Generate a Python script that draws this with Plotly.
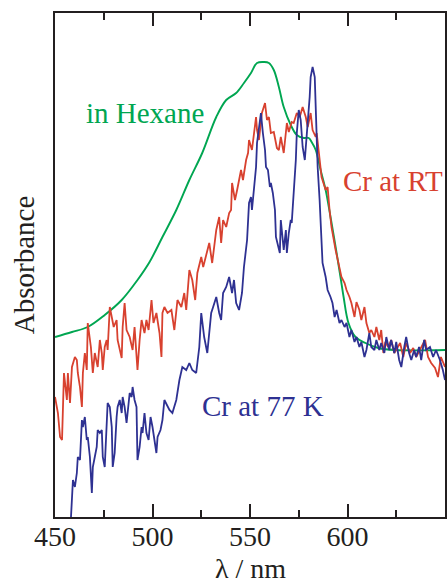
import plotly.graph_objects as go

# Cr at RT (red)
rt_nm = [450.0, 451.5, 452.6, 453.6, 454.6, 456.1, 456.6, 457.7, 458.7, 460.2, 461.2, 461.7, 462.8, 463.8, 464.3,
         465.3, 466.3, 466.8, 468.4, 469.4, 470.4, 471.9, 473.0, 474.0, 474.5, 475.5, 476.5, 477.0, 478.1, 479.1,
         480.1, 481.6, 482.1, 484.2, 484.7, 485.7, 486.7, 488.3, 489.8, 490.8, 492.3, 493.4, 494.4, 495.9, 496.9,
         498.0, 499.5, 500.5, 502.0, 503.6, 504.6, 505.1, 506.1, 507.7, 509.7, 511.2, 512.8, 514.8, 516.3, 517.3,
         518.9, 520.4, 521.9, 523.0, 525.0, 526.0, 527.6, 529.1, 530.6, 532.7, 534.2, 535.2, 536.2, 537.8, 539.3,
         540.3, 540.8, 542.3, 543.4, 544.4, 545.4, 546.4, 548.0, 549.0, 549.5, 551.0, 552.0, 553.1, 553.6, 554.6,
         556.1, 557.7, 558.7, 559.7, 560.7, 562.2, 563.8, 564.8, 565.8, 567.3, 568.9, 569.9, 571.4, 572.4, 574.0,
         575.5, 577.0, 578.6, 579.6, 581.1, 582.1, 583.7, 584.2, 585.7, 586.7, 588.8, 589.8, 590.8, 591.8, 593.9,
         595.4, 596.9, 598.5, 599.5, 601.0, 602.0, 603.6, 604.6, 606.1, 607.1, 608.7, 609.7, 611.2, 612.2, 613.8,
         614.8, 616.3, 617.3, 618.4, 619.4, 620.9, 622.4, 624.0, 625.0, 627.0, 628.6, 630.1, 632.1, 633.7, 635.2,
         637.8, 639.8, 641.3, 642.9, 644.9, 646.4, 647.9, 650.0]
rt_abs = [1.20, 1.04, 0.80, 0.77, 1.44, 1.17, 1.44, 1.14, 1.50, 1.60, 1.57, 1.44, 1.30, 1.10, 1.44,
          1.64, 1.47, 1.94, 1.70, 1.44, 1.64, 1.50, 1.77, 1.64, 1.47, 1.70, 1.77, 1.67, 2.10, 2.00,
          1.90, 1.97, 1.77, 1.59, 1.90, 2.14, 1.87, 1.80, 1.67, 1.90, 1.47, 1.77, 1.97, 1.84, 1.97,
          1.87, 2.17, 1.94, 2.04, 1.84, 1.60, 2.04, 2.10, 2.04, 2.07, 1.87, 2.17, 2.10, 2.24, 2.07,
          2.47, 2.37, 2.17, 2.44, 2.60, 2.50, 2.64, 2.74, 2.54, 2.87, 3.00, 2.74, 2.97, 2.90, 3.04,
          3.07, 3.34, 3.17, 3.27, 3.37, 3.47, 3.37, 3.57, 3.64, 3.77, 3.67, 3.84, 4.00, 3.87, 3.77,
          4.04, 4.14, 3.97, 4.00, 3.84, 3.85, 3.69, 3.67, 3.80, 3.64, 3.94, 3.85, 3.95, 3.94, 4.04,
          4.00, 4.10, 4.00, 3.90, 4.04, 3.87, 3.80, 3.84, 3.57, 3.40, 3.27, 3.30, 3.07, 2.90, 2.67,
          2.54, 2.40, 2.34, 2.27, 2.20, 2.14, 2.00, 2.15, 2.07, 1.97, 2.10, 1.94, 1.84, 1.87, 1.80,
          1.90, 1.77, 1.87, 1.64, 1.75, 1.70, 1.77, 1.64, 1.67, 1.74, 1.60, 1.74, 1.64, 1.69, 1.60,
          1.70, 1.77, 1.60, 1.54, 1.49, 1.40, 1.60, 1.50]

# Cr at 77 K (blue)
k77_nm = [458.2, 458.7, 459.2, 460.2, 461.2, 461.7, 462.8, 463.8, 464.3, 465.3, 466.3, 466.8, 467.9, 468.9, 469.4,
          470.4, 471.4, 471.9, 473.0, 474.0, 474.5, 475.5, 476.5, 477.0, 478.1, 479.1, 479.6, 480.6, 481.6, 482.1,
          483.2, 484.2, 484.7, 485.7, 486.7, 487.2, 488.3, 489.3, 489.8, 490.8, 491.8, 492.3, 493.4, 494.4, 494.9,
          495.9, 496.9, 498.0, 499.0, 500.0, 501.0, 502.0, 502.6, 504.1, 505.1, 506.1, 508.7, 510.2, 512.2, 513.8,
          515.3, 517.3, 518.9, 520.4, 522.4, 524.0, 525.0, 526.5, 528.1, 530.1, 531.1, 532.7, 534.2, 535.2, 536.2,
          537.8, 539.3, 540.8, 541.8, 542.9, 544.4, 545.9, 546.9, 548.5, 549.5, 550.5, 551.0, 552.0, 553.1, 553.6,
          554.6, 555.6, 556.6, 557.7, 558.2, 559.2, 560.2, 560.7, 561.7, 562.8, 563.3, 564.3, 565.3, 565.8, 566.8,
          567.3, 568.4, 568.9, 569.9, 570.9, 571.4, 572.4, 573.5, 574.0, 575.0, 576.0, 577.0, 578.1, 578.6, 579.6,
          580.6, 581.1, 582.1, 583.2, 583.7, 584.7, 585.7, 586.7, 587.2, 588.8, 589.8, 591.3, 592.3, 593.4, 594.4,
          595.9, 596.9, 598.5, 599.5, 601.0, 602.0, 603.6, 604.6, 606.1, 607.1, 608.7, 609.7, 611.2, 612.2, 613.8,
          614.8, 616.3, 617.3, 618.9, 619.9, 621.4, 622.4, 624.0, 625.0, 626.5, 627.6, 629.1, 630.1, 631.6, 632.7,
          634.2, 635.2, 636.7, 637.8, 639.3, 640.3, 642.3, 643.9, 645.4, 647.4, 648.9, 650.0]
k77_abs = [0.00, 0.14, 0.37, 0.30, 0.44, 0.60, 0.57, 0.97, 0.90, 1.00, 0.77, 0.80, 0.60, 0.24, 0.50,
           0.60, 0.70, 0.87, 0.84, 0.87, 0.60, 0.50, 0.90, 1.14, 1.10, 0.90, 0.50, 0.64, 1.00, 1.10,
           1.17, 1.04, 1.20, 1.10, 0.94, 1.04, 1.24, 1.20, 1.30, 1.17, 1.10, 0.57, 0.70, 0.90, 0.84,
           1.04, 0.84, 0.77, 1.00, 0.90, 0.77, 0.64, 0.80, 0.87, 0.97, 1.17, 1.07, 1.04, 1.17, 1.37,
           1.50, 1.47, 1.54, 1.47, 1.44, 1.70, 2.04, 1.80, 1.64, 2.04, 2.10, 2.20, 2.04, 1.97, 2.24,
           2.30, 2.40, 2.24, 2.37, 2.14, 2.07, 2.24, 2.50, 2.77, 3.14, 3.20, 3.07, 3.27, 3.50, 3.74,
           3.90, 4.04, 3.84, 3.67, 3.50, 3.47, 3.30, 3.34, 3.24, 3.07, 2.80, 2.70, 2.64, 2.97, 2.80,
           2.67, 2.87, 2.64, 2.84, 2.97, 2.94, 3.24, 3.57, 3.84, 4.07, 3.97, 3.70, 3.57, 3.70, 3.87,
           4.20, 4.40, 4.50, 4.40, 4.00, 3.50, 3.17, 2.80, 2.54, 2.40, 2.27, 2.20, 2.14, 2.00, 2.07,
           1.94, 1.97, 1.90, 1.94, 1.80, 1.87, 1.75, 1.80, 1.70, 1.75, 1.60, 1.67, 1.84, 1.70, 1.67,
           1.77, 1.67, 1.74, 1.64, 1.80, 1.67, 1.77, 1.64, 1.75, 1.57, 1.50, 1.70, 1.80, 1.64, 1.57,
           1.67, 1.60, 1.70, 1.57, 1.77, 1.67, 1.70, 1.60, 1.67, 1.57, 1.47, 1.37]

# in Hexane (green)
hex_nm = [450.0, 458.7, 466.8, 475.5, 484.2, 492.3, 498.5, 505.1, 512.2, 518.9, 525.5, 532.7, 537.8, 542.9,
          546.9, 550.5, 553.6, 557.1, 559.7, 562.2, 564.8, 567.3, 570.9, 574.0, 577.6, 580.1, 581.6, 583.7,
          586.2, 588.8, 591.3, 593.9, 596.4, 598.0, 600.5, 604.1, 609.2, 615.8, 624.5, 650.0]
hex_abs = [1.80, 1.85, 1.90, 2.02, 2.17, 2.37, 2.55, 2.80, 3.07, 3.37, 3.64, 4.00, 4.17, 4.24,
           4.34, 4.44, 4.54, 4.55, 4.54, 4.47, 4.30, 4.10, 3.92, 3.82, 3.79, 3.79, 3.75, 3.67,
           3.47, 3.27, 3.00, 2.70, 2.40, 2.20, 1.94, 1.80, 1.74, 1.69, 1.67, 1.67]

x_ticks = [450, 500, 550, 600]

RED = "#d8412f"
BLUE = "#2e3192"
GREEN = "#00a651"
INK = "#231f20"
FONT = "Liberation Serif"

fig = go.Figure()
fig.add_trace(go.Scatter(x=hex_nm, y=hex_abs, mode="lines", line=dict(color=GREEN, width=1.9, shape="spline"),
                         name="in Hexane", showlegend=False))
fig.add_trace(go.Scatter(x=rt_nm, y=rt_abs, mode="lines", line=dict(color=RED, width=1.8),
                         name="Cr at RT", showlegend=False))
fig.add_trace(go.Scatter(x=k77_nm, y=k77_abs, mode="lines", line=dict(color=BLUE, width=1.8),
                         name="Cr at 77 K", showlegend=False))

fig.update_layout(
    width=448, height=585,
    margin=dict(l=55, r=1, t=13, b=68),
    paper_bgcolor="white", plot_bgcolor="white",
    font=dict(family=FONT, size=29, color=INK),
    xaxis=dict(range=[450, 650], tickvals=x_ticks, ticktext=[str(v) for v in x_ticks],
               ticks="inside", ticklen=13, tickwidth=2, tickcolor=INK, ticklabelstandoff=-7,
               minor=dict(ticks="inside", ticklen=7, tickwidth=2, tickcolor=INK, dtick=25, tick0=450),
               showline=True, linewidth=2, linecolor=INK, mirror="allticks",
               showgrid=False, zeroline=False,
               tickfont=dict(family=FONT, size=28, color=INK)),
    yaxis=dict(range=[0, 5.04], showticklabels=False, ticks="",
               showline=True, linewidth=2, linecolor=INK, mirror=True,
               showgrid=False, zeroline=False),
    annotations=[
        dict(text="in Hexane", x=464.8, y=4.04, xref="x", yref="y", xanchor="left", yanchor="middle",
             showarrow=False, font=dict(family=FONT, size=29, color=GREEN)),
        dict(text="Cr at RT", x=596.9, y=3.36, xref="x", yref="y", xanchor="left", yanchor="middle",
             showarrow=False, font=dict(family=FONT, size=29, color=RED)),
        dict(text="Cr at 77 K", x=524.5, y=1.11, xref="x", yref="y", xanchor="left", yanchor="middle",
             showarrow=False, font=dict(family=FONT, size=29, color=BLUE)),
        dict(text="Absorbance", x=-0.079, y=0.5, xref="paper", yref="paper", xanchor="center", yanchor="middle",
             textangle=-90, showarrow=False, font=dict(family=FONT, size=29, color=INK)),
        dict(text="λ / nm", x=550, y=-0.102, xref="x", yref="paper", xanchor="center", yanchor="middle",
             showarrow=False, font=dict(family=FONT, size=28, color=INK)),
    ],
)

fig.write_html("out.html", config={"displayModeBar": False},
               post_script="document.body.style.margin='0';document.body.style.overflow='hidden';")
